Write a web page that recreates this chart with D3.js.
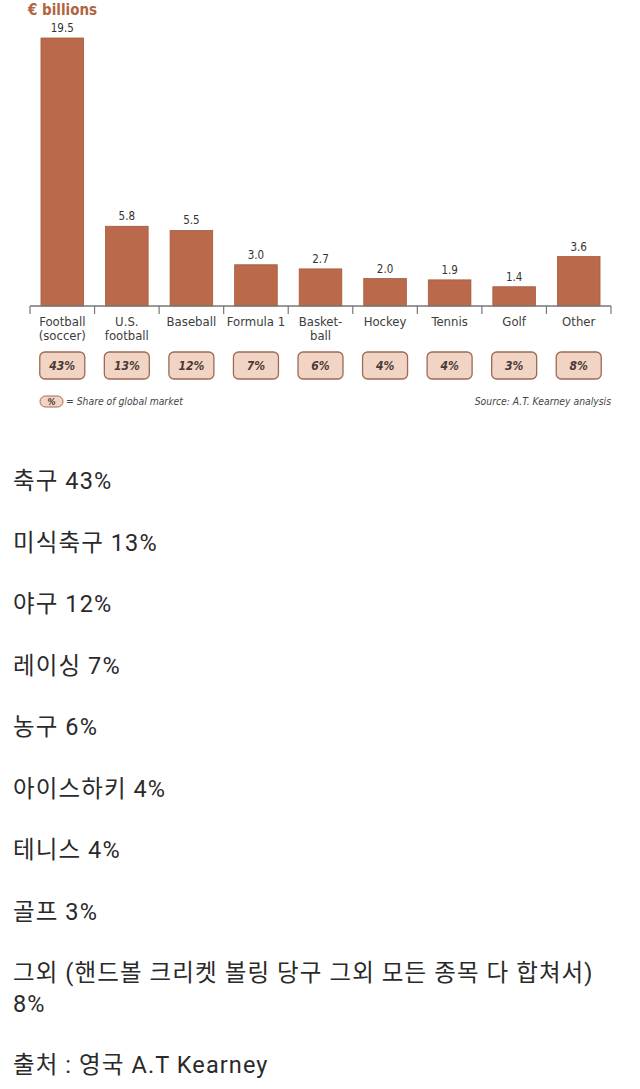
<!DOCTYPE html>
<html>
<head>
<meta charset="utf-8">
<script src="https://cdn.jsdelivr.net/npm/d3@7"></script>
<style>
  body { margin: 0; background: #fff; }
  .cond { font-family: "Liberation Sans Narrow", "DejaVu Sans Condensed", "Roboto Condensed", sans-serif; }
  .kr { font-family: Roboto, "Noto Sans CJK KR", sans-serif; letter-spacing: 1.1px; }
</style>
</head>
<body>
<script>
// data
const sports = ["Football|(soccer)", "U.S.|football", "Baseball", "Formula 1", "Basket-|ball", "Hockey", "Tennis", "Golf", "Other"];
const revenue = [19.5, 5.8, 5.5, 3.0, 2.7, 2.0, 1.9, 1.4, 3.6];
const share = ["43%", "13%", "12%", "7%", "6%", "4%", "4%", "3%", "8%"];
const notes = ["축구 43%", "미식축구 13%", "야구 12%", "레이싱 7%", "농구 6%", "아이스하키 4%", "테니스 4%", "골프 3%",
  "그외 (핸드볼 크리켓 볼링 당구 그외 모든 종목 다 합쳐서)|8%", "출처 : 영국 A.T Kearney"];

const width = 640, height = 1089;
const barColor = "#ba6a4a", boxFill = "#f2d4c4", brown = "#b0643f";

const svg = d3.select("body").append("svg")
  .attr("width", width)
  .attr("height", height);

const data = sports.map((s, i) => ({ name: s, value: revenue[i], share: share[i] }));

let x = d3.scaleBand()
  .domain(sports)
  .range([30, 611])
  .paddingInner(0.34)
  .paddingOuter(0.17);

let y = d3.scaleLinear()
  .domain([0, 19.5])
  .range([306, 38]);

// unit title
svg.append("text")
  .attr("class", "cond")
  .attr("x", 28).attr("y", 15)
  .attr("font-size", 15).attr("font-weight", "bold")
  .attr("fill", brown)
  .text("€ billions");

// bars
svg.selectAll("rect.bar")
  .data(data)
  .enter().append("rect")
  .attr("class", "bar")
  .attr("x", d => x(d.name))
  .attr("y", d => y(d.value))
  .attr("width", x.bandwidth())
  .attr("height", d => y(0) - y(d.value))
  .attr("fill", barColor)
  .attr("stroke", "#a55a3d")
  .attr("stroke-width", 0.8);

// value labels
svg.selectAll("text.val")
  .data(data)
  .enter().append("text")
  .attr("class", "cond val")
  .attr("x", d => x(d.name) + x.bandwidth() / 2)
  .attr("y", d => y(d.value) - 6)
  .attr("text-anchor", "middle")
  .attr("font-size", 11.5)
  .attr("fill", "#333")
  .text(d => d.value.toFixed(1));

// axis line with ticks between categories
const half = x.step() * x.paddingInner() / 2;
const bounds = sports.map(s => x(s) - half).concat([x(sports[sports.length - 1]) + x.bandwidth() + half]);
svg.append("line")
  .attr("x1", bounds[0]).attr("x2", bounds[bounds.length - 1])
  .attr("y1", y(0)).attr("y2", y(0))
  .attr("stroke", "#777").attr("stroke-width", 1.5);
svg.selectAll("line.tick")
  .data(bounds)
  .enter().append("line")
  .attr("x1", d => d).attr("x2", d => d)
  .attr("y1", y(0)).attr("y2", y(0) + 8)
  .attr("stroke", "#777").attr("stroke-width", 1.2);

// category labels
const cat = svg.selectAll("text.cat")
  .data(data)
  .enter().append("text")
  .attr("class", "cond cat")
  .attr("x", d => x(d.name) + x.bandwidth() / 2)
  .attr("y", 326)
  .attr("text-anchor", "middle")
  .attr("font-size", 13)
  .attr("fill", "#3c3c3c");
cat.selectAll("tspan")
  .data(d => d.name.split("|"))
  .enter().append("tspan")
  .attr("x", function () { return d3.select(this.parentNode).attr("x"); })
  .attr("dy", (d, i) => i ? 14 : 0)
  .text(d => d);

// share boxes
const boxW = 45;
svg.selectAll("rect.box")
  .data(data)
  .enter().append("rect")
  .attr("class", "box")
  .attr("x", d => x(d.name) + x.bandwidth() / 2 - boxW / 2)
  .attr("y", 352)
  .attr("width", boxW).attr("height", 27)
  .attr("rx", 5)
  .attr("fill", boxFill)
  .attr("stroke", "#9c6a55").attr("stroke-width", 1.3);
svg.selectAll("text.share")
  .data(data)
  .enter().append("text")
  .attr("class", "cond share")
  .attr("x", d => x(d.name) + x.bandwidth() / 2)
  .attr("y", 370)
  .attr("text-anchor", "middle")
  .attr("font-size", 12)
  .attr("font-style", "italic").attr("font-weight", "bold")
  .attr("fill", "#4a3a34")
  .text(d => d.share);

// legend and source
svg.append("rect")
  .attr("x", 40).attr("y", 396).attr("width", 23).attr("height", 11).attr("rx", 5.5)
  .attr("fill", boxFill).attr("stroke", "#9c6a55").attr("stroke-width", 1);
svg.append("text")
  .attr("class", "cond")
  .attr("x", 51.5).attr("y", 405)
  .attr("text-anchor", "middle")
  .attr("font-size", 9).attr("font-style", "italic").attr("font-weight", "bold")
  .attr("fill", "#4a3a34")
  .text("%");
svg.append("text")
  .attr("class", "cond")
  .attr("x", 66).attr("y", 405)
  .attr("font-size", 10.3).attr("font-style", "italic")
  .attr("fill", "#444")
  .text("= Share of global market");
svg.append("text")
  .attr("class", "cond")
  .attr("x", 611).attr("y", 405)
  .attr("text-anchor", "end")
  .attr("font-size", 10.3).attr("font-style", "italic")
  .attr("fill", "#444")
  .text("Source: A.T. Kearney analysis");

// Korean notes below the chart
const noteY = d3.scaleLinear().domain([0, 1]).range([489, 550.5]);
const krText = svg.selectAll("text.kr")
  .data(notes)
  .enter().append("text")
  .attr("class", "kr")
  .attr("x", 13)
  .attr("y", (d, i) => noteY(i) + (i > 8 ? 30.5 : 0))
  .attr("font-size", 23.5)
  .attr("fill", "#2a2a2a");
krText.selectAll("tspan")
  .data(d => d.split("|"))
  .enter().append("tspan")
  .attr("x", 13)
  .attr("dy", (d, i) => i ? 30.5 : 0)
  .text(d => d);
</script>
</body>
</html>
